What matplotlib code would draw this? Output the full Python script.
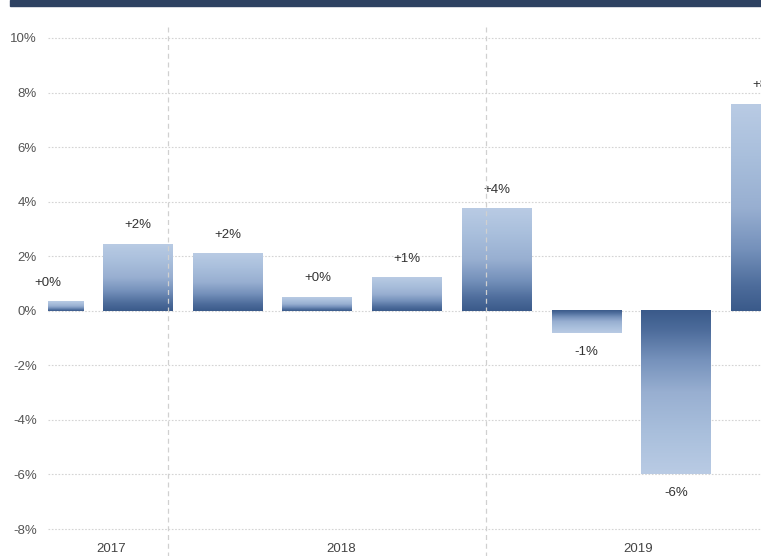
import numpy as np
import matplotlib
matplotlib.use("Agg")
import matplotlib.pyplot as plt
from matplotlib.colors import LinearSegmentedColormap
from matplotlib.patches import Rectangle

# ---- data ----
values = [0.33, 2.45, 2.09, 0.51, 1.21, 3.74, -0.81, -6.0, 7.58]
value_labels = ["+0%", "+2%", "+2%", "+0%", "+1%", "+4%", "-1%", "-6%", "+8%"]
yticks = [-8, -6, -4, -2, 0, 2, 4, 6, 8, 10]
ytick_labels = ["-8%", "-6%", "-4%", "-2%", "0%", "2%", "4%", "6%", "8%", "10%"]
years = ["2017", "2018", "2019"]
year_label_pos = [0.70, 3.26, 6.57]
year_boundaries = [1.334, 4.88]

plt.rcParams["font.family"] = ["Liberation Sans", "DejaVu Sans"]

W, H = 761, 556
fig = plt.figure(figsize=(W / 100, H / 100), dpi=100)
px_per_unit = (529 - 38) / 18.0
ymin, ymax = -8.15, 10.15
ax_top_px = 38 - 0.15 * px_per_unit
ax_bot_px = 529 + 0.15 * px_per_unit
ax_left, ax_right = 48 / W, 1.0
ax = fig.add_axes([ax_left, 1 - ax_bot_px / H, ax_right - ax_left, (ax_bot_px - ax_top_px) / H])

cmap = LinearSegmentedColormap.from_list(
    "grad",
    [(0.0, "#3a5a8a"), (0.12, "#4d6c9b"), (0.3, "#7591bb"),
     (0.5, "#98afd1"), (0.75, "#a9bfdc"), (1.0, "#b9cbe4")])

x = np.arange(len(values))
width = 0.78
bars = ax.bar(x, values, width=width, color="none", edgecolor="none", zorder=2)
grad = np.linspace(0, 1, 256).reshape(-1, 1)
for b, v in zip(bars, values):
    x0 = b.get_x()
    x1 = x0 + b.get_width()
    if v >= 0:
        ax.imshow(grad, extent=(x0, x1, 0, v), origin="lower", cmap=cmap,
                  aspect="auto", zorder=2, interpolation="bilinear")
    else:
        ax.imshow(grad[::-1], extent=(x0, x1, v, 0), origin="lower", cmap=cmap,
                  aspect="auto", zorder=2, interpolation="bilinear")

for xi, v, lab in zip(x, values, value_labels):
    off = 13.7 if v >= 0 else -13.7
    ax.annotate(lab, (xi, v), xytext=(0, off), textcoords="offset points",
                ha="center", va="center", fontsize=9.5, color="#333333",
                clip_on=False, annotation_clip=False)

ax.set_xlim(-0.003, 7.945)
ax.set_ylim(ymin, ymax)
ax.set_yticks(yticks)
ax.set_yticklabels(ytick_labels)
ax.tick_params(axis="y", length=0, pad=8, labelsize=9.5, labelcolor="#555555")
ax.set_xticks([])
for s in ax.spines.values():
    s.set_visible(False)
ax.yaxis.grid(True, linestyle=(0, (1.5, 1.5)), color="#d4d4d4", linewidth=0.8, zorder=0)
ax.set_axisbelow(True)

ax_h_px = ax_bot_px - ax_top_px
for xb in year_boundaries:
    ax.axvline(xb, ymin=-(556 - ax_bot_px) / ax_h_px - 0.01,
               ymax=1 + (ax_top_px - 27) / ax_h_px,
               color="#d0d0d0", linestyle=(0, (4, 3)),
               linewidth=0.9, clip_on=False, zorder=4)

for xl, yr in zip(year_label_pos, years):
    ax.text(xl, 1 - (549 - ax_top_px) / ax_h_px, yr, transform=ax.get_xaxis_transform(),
            ha="center", va="center", fontsize=9.5, color="#444444", clip_on=False)

fig.patches.append(Rectangle((10 / W, 1 - 6 / H), 1, 6 / H, transform=fig.transFigure,
                             color="#2e4262", zorder=10))

fig.savefig("out.png", dpi=100)
